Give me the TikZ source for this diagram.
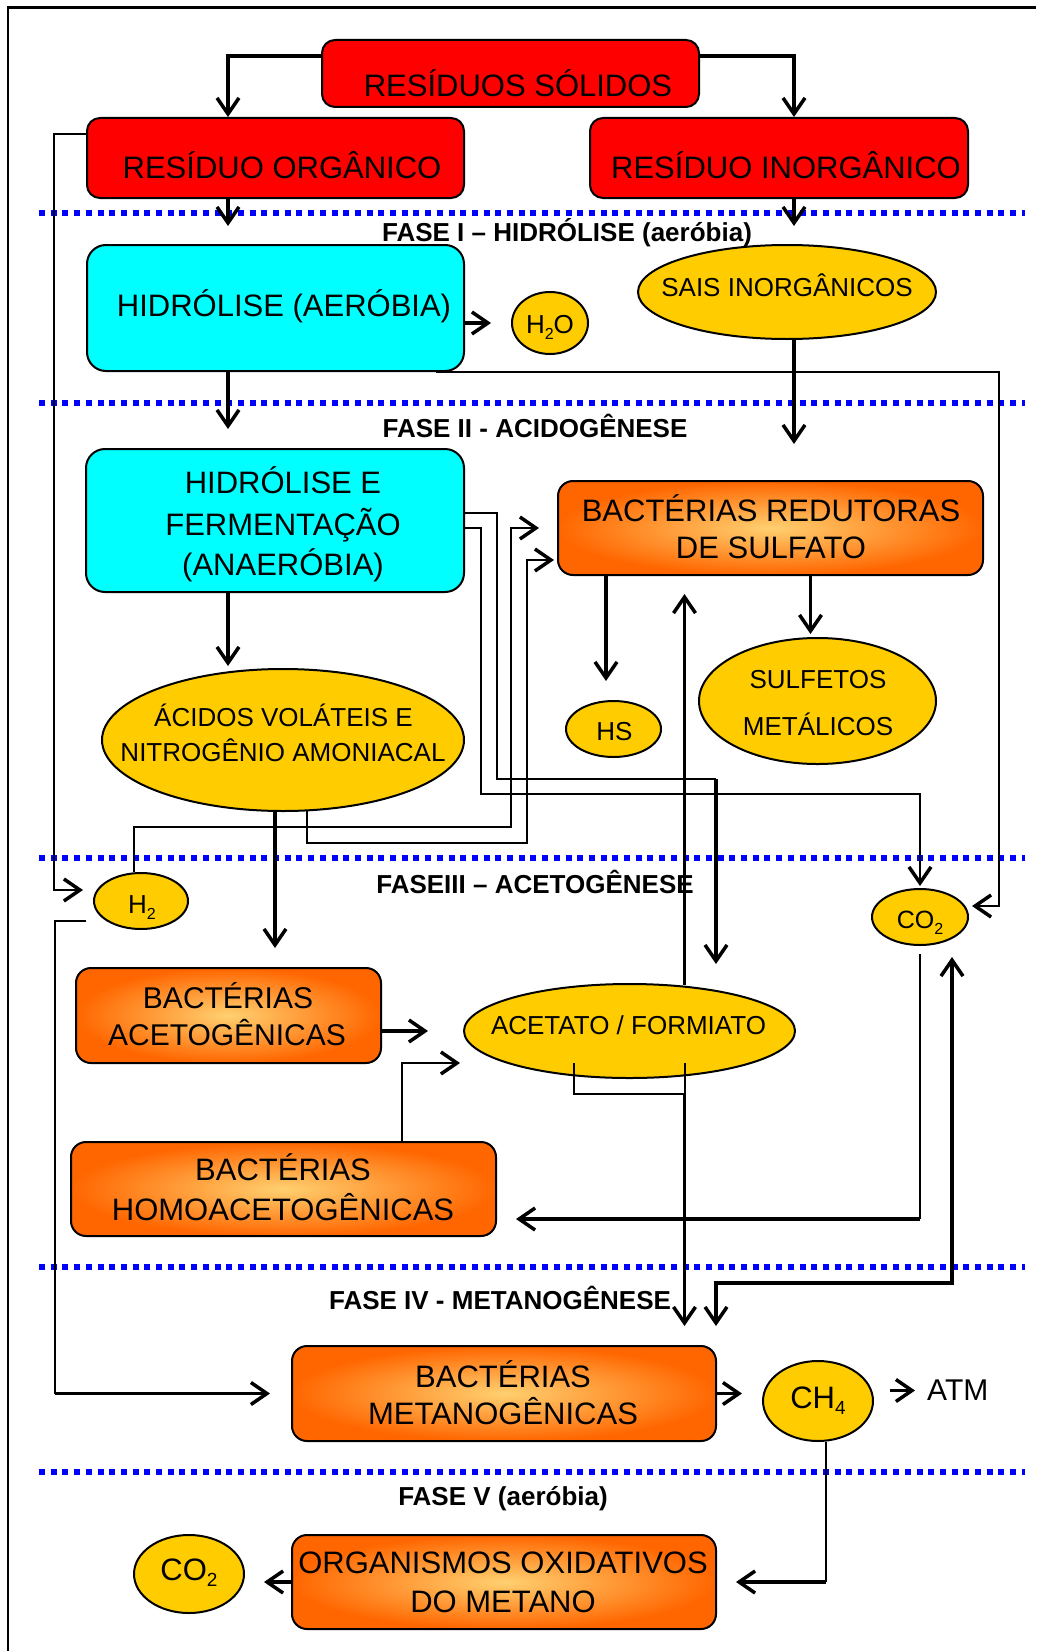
\documentclass[tikz,border=0pt]{standalone}
\usepackage{fontspec}
\setmainfont{Liberation Sans}
\usetikzlibrary{shapes.geometric,arrows.meta,calc}
\definecolor{rd}{RGB}{255,0,0}
\definecolor{cy}{RGB}{0,255,255}
\definecolor{yel}{RGB}{255,204,0}
\definecolor{orOut}{RGB}{255,102,0}
\definecolor{orIn}{RGB}{255,208,112}
\definecolor{dotblue}{RGB}{0,0,255}
\newcommand\myfs[1]{\fontsize{#1}{#1}\selectfont}
\newcommand\mysubs[3]{\raisebox{#1}{\fontsize{#2}{#2}\selectfont #3}}
\begin{document}
\begin{tikzpicture}[x=1pt,y=-1pt,
  redbox/.style={draw,line width=2pt,fill=rd,rounded corners=13pt,inner sep=0pt},
  cyanbox/.style={draw,line width=2pt,fill=cy,rounded corners=19pt,inner sep=0pt},
  orbox/.style={draw,line width=2pt,rounded corners=15pt,inner color=orIn,outer color=orOut,inner sep=0pt},
  yell/.style={ellipse,draw,line width=2pt,fill=yel,inner sep=0pt},
  tx/.style={anchor=base,inner sep=0pt,font=\myfs{#1}},
  lab/.style={anchor=base,inner sep=0pt,font=\myfs{26}\bfseries},
  dots/.style={draw=dotblue,line width=6.5pt,dash pattern=on 6pt off 5.7pt},
  thk/.style={line width=3.5pt},
  mid/.style={line width=2.6pt},
  thn/.style={line width=2pt},
  arr/.style={-{Straight Barb[length=16pt,width=22pt,line width=3.5pt]}},
  arrb/.style={{Straight Barb[length=16pt,width=22pt,line width=3.5pt]}-{Straight Barb[length=16pt,width=22pt,line width=3.5pt]}}
]
\useasboundingbox (0,0) rectangle (1036,1651);
% frame
\draw[line width=2pt] (8,1651) -- (8,8);
\draw[line width=3pt] (7,8) -- (1036,8);
% phase separators
\foreach \yy in {213,403,858,1267,1472} \draw[dots] (39,\yy) -- (1025,\yy);

% boxes
\node[redbox,minimum width=377pt,minimum height=67pt] (solidos) at (510.5,73.5) {};
\node[redbox,minimum width=377pt,minimum height=80pt] (org) at (275.5,158) {};
\node[redbox,minimum width=378pt,minimum height=80pt] (inorg) at (779,158) {};
\node[cyanbox,minimum width=377pt,minimum height=126pt] (hidA) at (275.5,308) {};
\node[cyanbox,minimum width=378pt,minimum height=143pt] (hidF) at (275,520.5) {};
\node[orbox,minimum width=425pt,minimum height=94pt] (redut) at (770.5,528) {};
\node[orbox,minimum width=305pt,minimum height=95pt] (aceto) at (228.5,1015.5) {};
\node[orbox,minimum width=425pt,minimum height=94pt] (homo) at (283.5,1189) {};
\node[orbox,minimum width=424pt,minimum height=95pt] (metano) at (504,1393.5) {};
\node[orbox,minimum width=424pt,minimum height=94pt] (oxid) at (504,1582) {};

% ellipses
\node[yell,minimum width=76pt,minimum height=62pt] (h2o) at (550,323) {};
\node[yell,minimum width=298pt,minimum height=94pt] (sais) at (787,292) {};
\node[yell,minimum width=362pt,minimum height=142pt] (acidos) at (283,740) {};
\node[yell,minimum width=95pt,minimum height=56pt] (hs) at (613.5,729) {};
\node[yell,minimum width=237pt,minimum height=126pt] (sulf) at (817.5,701) {};
\node[yell,minimum width=94pt,minimum height=56pt] (h2) at (141,901) {};
\node[yell,minimum width=331pt,minimum height=94pt] (acet) at (629.5,1031) {};
\node[yell,minimum width=96pt,minimum height=56pt] (co2a) at (920,917) {};
\node[yell,minimum width=110pt,minimum height=80pt] (ch4) at (818,1401) {};
\node[yell,minimum width=110pt,minimum height=78pt] (co2b) at (189,1574) {};

% box texts
\node[tx=31] (tSol) at (518,97) {RESÍDUOS SÓLIDOS};
\node[tx=31] (tOrg) at (282,178) {RESÍDUO ORGÂNICO};
\node[tx=31] (tInorg) at (786,178) {RESÍDUO INORGÂNICO};
\node[tx=31] (tHidA) at (284,316) {HIDRÓLISE (AERÓBIA)};
\node[tx=31] (tHidF1) at (283,493) {HIDRÓLISE E};
\node[tx=31] (tHidF2) at (283,535) {FERMENTAÇÃO};
\node[tx=31] (tHidF3) at (283,575) {(ANAERÓBIA)};
\node[tx=31] (tRed1) at (771,521) {BACTÉRIAS REDUTORAS};
\node[tx=31] (tRed2) at (771,558) {DE SULFATO};
\node[tx=30] (tAce1) at (228,1008) {BACTÉRIAS};
\node[tx=30] (tAce2) at (227,1045) {ACETOGÊNICAS};
\node[tx=31] (tHom1) at (283,1180) {BACTÉRIAS};
\node[tx=31] (tHom2) at (283,1220) {HOMOACETOGÊNICAS};
\node[tx=31] (tMet1) at (503,1387) {BACTÉRIAS};
\node[tx=31] (tMet2) at (503,1424) {METANOGÊNICAS};
\node[tx=31] (tOx1) at (503,1573) {ORGANISMOS OXIDATIVOS};
\node[tx=31] (tOx2) at (503,1612) {DO METANO};

% ellipse texts
\node[tx=26] (tH2O) at (550,333) {H\mysubs{-6pt}{16}{2}O};
\node[tx=26] (tSais) at (787,296) {SAIS INORGÂNICOS};
\node[tx=26] (tAc1) at (283.5,726) {ÁCIDOS VOLÁTEIS E};
\node[tx=26] (tAc2) at (283,761) {NITROGÊNIO AMONIACAL};
\node[tx=26] (tHS) at (614.5,740) {HS};
\node[tx=26] (tSul1) at (818,688) {SULFETOS};
\node[tx=26] (tSul2) at (818,735) {METÁLICOS};
\node[tx=26] (tH2) at (142,913) {H\mysubs{-6pt}{16}{2}};
\node[tx=26] (tAcet) at (628.5,1034) {ACETATO / FORMIATO};
\node[tx=25] (tCO2a) at (920,928) {CO\mysubs{-6pt}{16}{2}};
\node[tx=31] (tCH4) at (818,1408) {CH\mysubs{-6pt}{19}{4}};
\node[tx=31] (tCO2b) at (189,1580) {CO\mysubs{-6pt}{19}{2}};
\node[tx=30,anchor=west] (atm) at (927,1390.5) {ATM};

% phase labels
\node[lab] (lab1) at (567,241) {FASE I – HIDRÓLISE (aeróbia)};
\node[lab] (lab2) at (535,437) {FASE II - ACIDOGÊNESE};
\node[lab] (lab3) at (535,893) {FASEIII – ACETOGÊNESE};
\node[lab] (lab4) at (500,1309) {FASE IV - METANOGÊNESE};
\node[lab] (lab5) at (503,1505) {FASE V (aeróbia)};

% connectors
\draw[thk,arr] ([yshift=17.5pt]solidos.west) -| ([xshift=-47.5pt]org.north);
\draw[thk,arr] ([yshift=17.5pt]solidos.east) -| ([xshift=15pt]inorg.north);
\draw[thk,arr] ([xshift=-47.5pt]org.south) -- ([xshift=-47.5pt,yshift=18pt]hidA.north);
\draw[thk,arr] ([xshift=15pt]inorg.south) -- ([xshift=7pt,yshift=18pt]sais.north);
\draw[thk,arr] ([yshift=-15pt]hidA.east) -- ([xshift=-20pt]h2o.west);
\draw[thk,arr] ([xshift=-47.5pt]hidA.south) -- ([xshift=-47pt,yshift=19pt]hidF.north);
\coordinate (rc) at (999,906);
\draw[thn,arr] ([xshift=160pt]hidA.south) -| (rc) -- ([xshift=3pt,yshift=11pt]co2a.east);
\draw[thk,arr] ([xshift=7pt]sais.south) -- ([xshift=23.5pt,yshift=36pt]redut.north);
\draw[thk,arr] ([xshift=-47pt]hidF.south) -- ([xshift=-55pt,yshift=2pt]acidos.north);
\coordinate (k1) at (716,779);
\draw[thn] ([yshift=7.5pt]hidF.east) -- ++(32,0) |- (k1);
\draw[thk,arr] (k1) -- ([xshift=86.5pt,yshift=19pt]acet.north);
\draw[thn,arr] ([yshift=-7.5pt]hidF.east) -- ++(16,0) |- ([yshift=94pt]co2a.north) -- ([yshift=2pt]co2a.north);
\coordinate (c12) at (511,827);
\draw[thn,arr] ([xshift=-7pt]h2.north) |- (c12) |- ([xshift=-18pt]redut.west);
\coordinate (c13) at (527,843);
\draw[thn,arr] ([xshift=24pt,yshift=2pt]acidos.south) |- (c13) |- ([xshift=-3pt,yshift=-32pt]redut.west);
\draw[thk,arr] ([xshift=-164.5pt]redut.south) -- ([xshift=-7.5pt,yshift=19pt]hs.north);
\draw[thk,arr] ([xshift=40pt]redut.south) -- ([xshift=-7pt,yshift=3pt]sulf.north);
\draw[thk,arr] ([xshift=55pt,yshift=-2pt]acet.north) -- ([xshift=-86pt,yshift=-18pt]redut.south);
\draw[thk,arr] ([xshift=-8pt]acidos.south) -- ([xshift=46.5pt,yshift=19pt]aceto.north);
\draw[thn,arr] ([yshift=24pt]org.west) -- ++(-32,0) |- ([xshift=-10pt,yshift=11pt]h2.west);
\coordinate (c19) at (55,1393.5);
\draw[thn] ([xshift=-7pt,yshift=-20pt]h2.west) -| (c19);
\draw[thk,arr] (c19) -- ([xshift=-21pt]metano.west);
\draw[thk,arr] ([yshift=-15.5pt]aceto.east) -- ([xshift=-35pt]acet.west);
\draw[mid,arr] ([xshift=118.5pt]homo.north) |- ([xshift=-3pt,yshift=-32pt]acet.west);
\draw[thn] ([xshift=-55.5pt,yshift=-32pt]acet.center) -- ++(0,31) -| ([xshift=55pt,yshift=-32pt]acet.center);
\draw[thk,arr] ([xshift=55pt,yshift=-63pt]acet.center) -- ([xshift=180.5pt,yshift=19pt]metano.north);
\coordinate (c23) at (920,1219);
\draw[thn] ([yshift=-8pt]co2a.south) -- (c23);
\draw[thk,arr] (c23) -- ([xshift=19pt,yshift=-30pt]homo.east);
\coordinate (c24) at (952,1283);
\draw[thk,arrb] ([xshift=212pt,yshift=19pt]metano.north) |- (c24) -- ([xshift=32pt,yshift=-11pt]co2a.south);
\draw[thk,arr] (metano.east) -- ([xshift=-20pt,yshift=7.5pt]ch4.west);
\draw[thk,arr] ([xshift=16pt,yshift=10.5pt]ch4.east) -- ([xshift=-12pt]atm.west);
\coordinate (c27) at (826,1582);
\draw[thn] ([xshift=8pt]ch4.south) -- (c27);
\draw[thk,arr] (c27) -- ([xshift=19pt]oxid.east);
\draw[thk,arr] (oxid.west) -- ([xshift=19pt,yshift=-8pt]co2b.east);
\end{tikzpicture}
\end{document}
